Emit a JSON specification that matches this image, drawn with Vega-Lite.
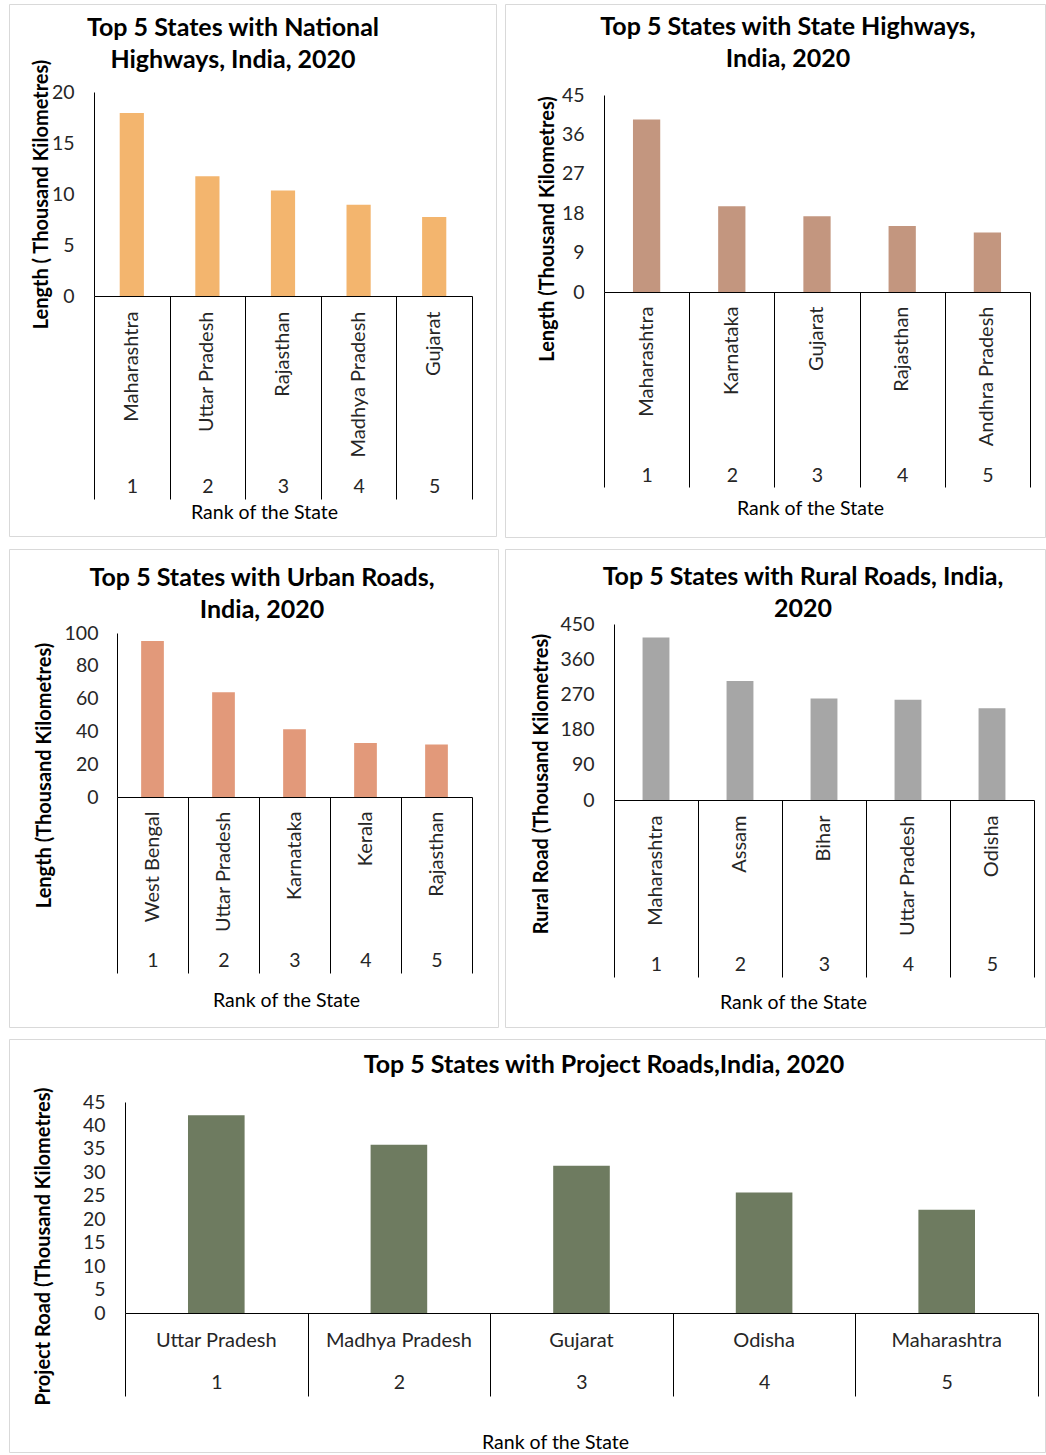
{
  "$schema": "https://vega.github.io/schema/vega-lite/v6.json",
  "padding": {"left": 8, "top": 3, "right": 0, "bottom": 0},
  "background": "white",
  "config": {
    "font": "Lato",
    "view": {"stroke": "#D9D9D9", "strokeWidth": 1},
    "axis": {"labelColor": "#262626", "titleColor": "#000000", "domainColor": "#000000", "tickColor": "#000000", "labelFont": "Lato", "titleFont": "Lato", "grid": false, "labelOverlap": false, "labelLimit": 300},
    "title": {"font": "Lato", "fontWeight": "bold", "fontSize": 25, "color": "#000000", "lineHeight": 32, "anchor": "middle", "frame": "group", "baseline": "top"}
  },
  "datasets": {
    "national": [
      {"rank": 1, "state": "Maharashtra", "length": 17.93},
      {"rank": 2, "state": "Uttar Pradesh", "length": 11.74},
      {"rank": 3, "state": "Rajasthan", "length": 10.34},
      {"rank": 4, "state": "Madhya Pradesh", "length": 8.94},
      {"rank": 5, "state": "Gujarat", "length": 7.74}
    ],
    "stateHighways": [
      {"rank": 1, "state": "Maharashtra", "length": 39.4},
      {"rank": 2, "state": "Karnataka", "length": 19.6},
      {"rank": 3, "state": "Gujarat", "length": 17.3},
      {"rank": 4, "state": "Rajasthan", "length": 15.1},
      {"rank": 5, "state": "Andhra Pradesh", "length": 13.6}
    ],
    "urban": [
      {"rank": 1, "state": "West Bengal", "length": 95.1},
      {"rank": 2, "state": "Uttar Pradesh", "length": 63.9},
      {"rank": 3, "state": "Karnataka", "length": 41.3},
      {"rank": 4, "state": "Kerala", "length": 32.9},
      {"rank": 5, "state": "Rajasthan", "length": 32.0}
    ],
    "rural": [
      {"rank": 1, "state": "Maharashtra", "length": 415.8},
      {"rank": 2, "state": "Assam", "length": 304.5},
      {"rank": 3, "state": "Bihar", "length": 259.2},
      {"rank": 4, "state": "Uttar Pradesh", "length": 256.6},
      {"rank": 5, "state": "Odisha", "length": 234.4}
    ],
    "project": [
      {"rank": 1, "state": "Uttar Pradesh", "length": 42.2},
      {"rank": 2, "state": "Madhya Pradesh", "length": 35.9},
      {"rank": 3, "state": "Gujarat", "length": 31.4},
      {"rank": 4, "state": "Odisha", "length": 25.7},
      {"rank": 5, "state": "Maharashtra", "length": 22.0}
    ]
  },
  "spacing": 10,
  "vconcat": [
    {
      "bounds": "flush",
      "spacing": 9,
      "hconcat": [
        {
          "width": 487, "height": 532,
          "data": {"name": "national"},
          "title": {"text": ["Top 5 States with National", "Highways, India, 2020"], "offset": -69, "dx": -19.5},
          "layer": [
            {
              "mark": {"type": "bar", "color": "#F3B56E", "width": {"band": 0.32}},
              "encoding": {
                "x": {"field": "rank", "type": "ordinal", "scale": {"range": [85, 463], "paddingInner": 0, "paddingOuter": 0},
                  "axis": {"orient": "bottom", "offset": -240, "tickBand": "extent", "tickSize": 203, "labelAngle": 0, "labelAlign": "center", "labelBaseline": "middle", "labelPadding": -13, "labelFontSize": 19.5,
                    "title": "Rank of the State", "titleFontSize": 19.5, "titleFontWeight": "normal", "titleX": 255, "titleY": 216, "titleBaseline": "middle", "titleAlign": "center"}},
                "y": {"field": "length", "type": "quantitative", "scale": {"domain": [0, 20], "range": [292, 88]},
                  "axis": {"offset": -85, "values": [0, 5, 10, 15, 20], "ticks": false, "labelPadding": 20, "labelFontSize": 19.5,
                    "title": "Length ( Thousand Kilometres)", "titleFontSize": 20, "titleFontWeight": "bold", "titleX": -53, "titleBaseline": "middle"}}
              }
            },
            {
              "mark": {"type": "rule", "opacity": 0},
              "encoding": {
                "x": {"field": "state", "type": "nominal", "sort": {"field": "rank", "op": "min"}, "scale": {"range": [85, 463], "paddingInner": 0, "paddingOuter": 0},
                  "axis": {"orient": "bottom", "offset": -240, "ticks": false, "domain": false, "title": null, "labelAngle": -90, "labelAlign": "right", "labelBaseline": "middle", "labelPadding": 15, "labelFontSize": 20}}
              }
            }
          ],
          "resolve": {"scale": {"x": "independent"}, "axis": {"x": "independent"}}
        },
        {
          "width": 540, "height": 533,
          "data": {"name": "stateHighways"},
          "title": {"text": ["Top 5 States with State Highways,", "India, 2020"], "offset": -68, "dx": 13},
          "layer": [
            {
              "mark": {"type": "bar", "color": "#C3967F", "width": {"band": 0.32}},
              "encoding": {
                "x": {"field": "rank", "type": "ordinal", "scale": {"range": [99, 525], "paddingInner": 0, "paddingOuter": 0},
                  "axis": {"orient": "bottom", "offset": -245, "tickBand": "extent", "tickSize": 195, "labelAngle": 0, "labelAlign": "center", "labelBaseline": "middle", "labelPadding": -12, "labelFontSize": 19.5,
                    "title": "Rank of the State", "titleFontSize": 19.5, "titleFontWeight": "normal", "titleX": 305, "titleY": 216, "titleBaseline": "middle", "titleAlign": "center"}},
                "y": {"field": "length", "type": "quantitative", "scale": {"domain": [0, 45], "range": [288, 91]},
                  "axis": {"offset": -99, "values": [0, 9, 18, 27, 36, 45], "ticks": false, "labelPadding": 20, "labelFontSize": 19.5,
                    "title": "Length (Thousand Kilometres)", "titleFontSize": 20, "titleFontWeight": "bold", "titleX": -57, "titleY": 224.5, "titleBaseline": "middle"}}
              }
            },
            {
              "mark": {"type": "rule", "opacity": 0},
              "encoding": {
                "x": {"field": "state", "type": "nominal", "sort": {"field": "rank", "op": "min"}, "scale": {"range": [99, 525], "paddingInner": 0, "paddingOuter": 0},
                  "axis": {"orient": "bottom", "offset": -245, "ticks": false, "domain": false, "title": null, "labelAngle": -90, "labelAlign": "right", "labelBaseline": "middle", "labelPadding": 14, "labelFontSize": 20}}
              }
            }
          ],
          "resolve": {"scale": {"x": "independent"}, "axis": {"x": "independent"}}
        }
      ]
    },
    {
      "bounds": "flush",
      "spacing": 7,
      "hconcat": [
        {
          "width": 489, "height": 478,
          "data": {"name": "urban"},
          "title": {"text": ["Top 5 States with Urban Roads,", "India, 2020"], "offset": -74, "dx": 8.5},
          "layer": [
            {
              "mark": {"type": "bar", "color": "#E2997A", "width": {"band": 0.32}},
              "encoding": {
                "x": {"field": "rank", "type": "ordinal", "scale": {"range": [108, 463], "paddingInner": 0, "paddingOuter": 0},
                  "axis": {"orient": "bottom", "offset": -230, "tickBand": "extent", "tickSize": 176, "labelAngle": 0, "labelAlign": "center", "labelBaseline": "middle", "labelPadding": -13, "labelFontSize": 19.5,
                    "title": "Rank of the State", "titleFontSize": 19.5, "titleFontWeight": "normal", "titleX": 277, "titleY": 203, "titleBaseline": "middle", "titleAlign": "center"}},
                "y": {"field": "length", "type": "quantitative", "scale": {"domain": [0, 100], "range": [248, 84]},
                  "axis": {"offset": -108, "values": [0, 20, 40, 60, 80, 100], "ticks": false, "labelPadding": 19, "labelFontSize": 19.5,
                    "title": "Length (Thousand Kilometres)", "titleFontSize": 20, "titleFontWeight": "bold", "titleX": -73, "titleY": 226, "titleBaseline": "middle"}}
              }
            },
            {
              "mark": {"type": "rule", "opacity": 0},
              "encoding": {
                "x": {"field": "state", "type": "nominal", "sort": {"field": "rank", "op": "min"}, "scale": {"range": [108, 463], "paddingInner": 0, "paddingOuter": 0},
                  "axis": {"orient": "bottom", "offset": -230, "ticks": false, "domain": false, "title": null, "labelAngle": -90, "labelAlign": "right", "labelBaseline": "middle", "labelPadding": 14, "labelFontSize": 20}}
              }
            }
          ],
          "resolve": {"scale": {"x": "independent"}, "axis": {"x": "independent"}}
        },
        {
          "width": 540, "height": 478,
          "data": {"name": "rural"},
          "title": {"text": ["Top 5 States with Rural Roads, India,", "2020"], "offset": -73, "dx": 28},
          "layer": [
            {
              "mark": {"type": "bar", "color": "#A6A6A6", "width": {"band": 0.32}},
              "encoding": {
                "x": {"field": "rank", "type": "ordinal", "scale": {"range": [109, 529], "paddingInner": 0, "paddingOuter": 0},
                  "axis": {"orient": "bottom", "offset": -227, "tickBand": "extent", "tickSize": 177, "labelAngle": 0, "labelAlign": "center", "labelBaseline": "middle", "labelPadding": -13, "labelFontSize": 19.5,
                    "title": "Rank of the State", "titleFontSize": 19.5, "titleFontWeight": "normal", "titleX": 288, "titleY": 202, "titleBaseline": "middle", "titleAlign": "center"}},
                "y": {"field": "length", "type": "quantitative", "scale": {"domain": [0, 450], "range": [251, 75]},
                  "axis": {"offset": -109, "values": [0, 90, 180, 270, 360, 450], "ticks": false, "labelPadding": 20, "labelFontSize": 19.5,
                    "title": "Rural Road (Thousand Kilometres)", "titleFontSize": 20, "titleFontWeight": "bold", "titleX": -73, "titleY": 234.5, "titleBaseline": "middle"}}
              }
            },
            {
              "mark": {"type": "rule", "opacity": 0},
              "encoding": {
                "x": {"field": "state", "type": "nominal", "sort": {"field": "rank", "op": "min"}, "scale": {"range": [109, 529], "paddingInner": 0, "paddingOuter": 0},
                  "axis": {"orient": "bottom", "offset": -227, "ticks": false, "domain": false, "title": null, "labelAngle": -90, "labelAlign": "right", "labelBaseline": "middle", "labelPadding": 15, "labelFontSize": 20}}
              }
            }
          ],
          "resolve": {"scale": {"x": "independent"}, "axis": {"x": "independent"}}
        }
      ]
    },
    {
      "width": 1036, "height": 413,
      "data": {"name": "project"},
      "title": {"text": "Top 5 States with Project Roads,India, 2020", "offset": -39, "dx": 77},
      "layer": [
        {
          "mark": {"type": "bar", "color": "#6E7B60", "width": {"band": 0.31}},
          "encoding": {
            "x": {"field": "rank", "type": "ordinal", "scale": {"range": [116, 1029], "paddingInner": 0, "paddingOuter": 0},
              "axis": {"orient": "bottom", "offset": -139, "tickBand": "extent", "tickSize": 83, "labelAngle": 0, "labelAlign": "center", "labelBaseline": "middle", "labelPadding": -14, "labelFontSize": 19.5,
                "title": "Rank of the State", "titleFontSize": 19.5, "titleFontWeight": "normal", "titleX": 546, "titleY": 129, "titleBaseline": "middle", "titleAlign": "center"}},
            "y": {"field": "length", "type": "quantitative", "scale": {"domain": [0, 45], "range": [274, 63]},
              "axis": {"offset": -116, "values": [0, 5, 10, 15, 20, 25, 30, 35, 40, 45], "ticks": false, "labelPadding": 20, "labelFontSize": 19.5,
                "title": "Project Road (Thousand Kilometres)", "titleFontSize": 20, "titleFontWeight": "bold", "titleX": -82, "titleY": 207, "titleBaseline": "middle"}}
          }
        },
        {
          "mark": {"type": "rule", "opacity": 0},
          "encoding": {
            "x": {"field": "state", "type": "nominal", "sort": {"field": "rank", "op": "min"}, "scale": {"range": [116, 1029], "paddingInner": 0, "paddingOuter": 0},
              "axis": {"orient": "bottom", "offset": -139, "ticks": false, "domain": false, "title": null, "labelAngle": 0, "labelAlign": "center", "labelBaseline": "middle", "labelPadding": 27, "labelFontSize": 20}}
          }
        }
      ],
      "resolve": {"scale": {"x": "independent"}, "axis": {"x": "independent"}}
    }
  ]
}
